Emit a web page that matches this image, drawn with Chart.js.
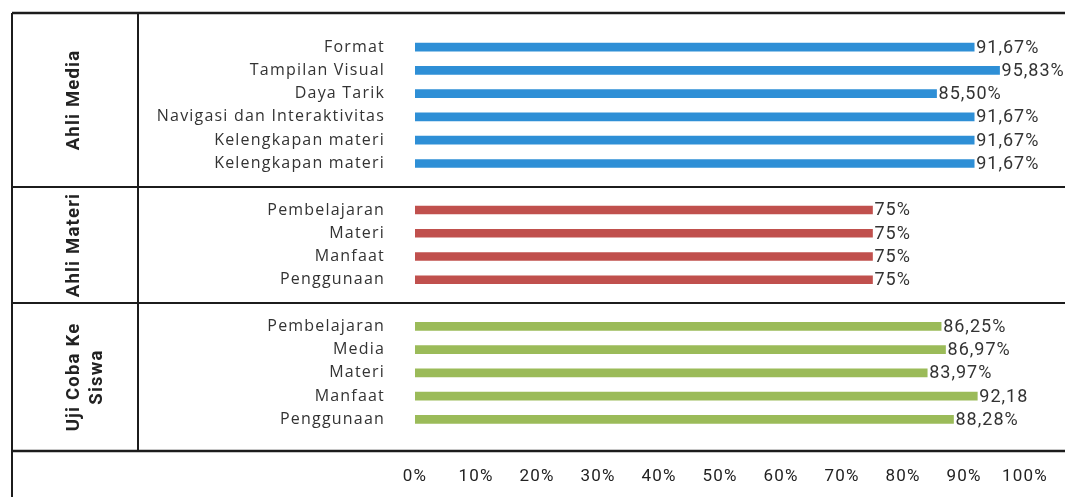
<!DOCTYPE html>
<html>
<head>
<meta charset="utf-8">
<script src="https://cdn.jsdelivr.net/npm/chart.js@4.4.1/dist/chart.umd.min.js"></script>
<style>
    html, body { margin: 0; padding: 0; background: #fff; }
    #wrap { width: 1065px; height: 497px; }
</style>
</head>
<body>
<div id="wrap"><canvas id="chart" width="1065" height="497"></canvas></div>
<script>
// groups (rotated labels in the left column)
const groupNames = [['Ahli Media'], ['Ahli Materi'], ['Uji Coba Ke', 'Siswa']];
const groupColors = ['#2e8fd6', '#c0504d', '#9bbb59'];

const mediaLabels = ['Format', 'Tampilan Visual', 'Daya Tarik', 'Navigasi dan Interaktivitas', 'Kelengkapan materi', 'Kelengkapan materi'];
const mediaValues = [91.67, 95.83, 85.50, 91.67, 91.67, 91.67];
const mediaText = ['91,67%', '95,83%', '85,50%', '91,67%', '91,67%', '91,67%'];

const materiLabels = ['Pembelajaran', 'Materi', 'Manfaat', 'Penggunaan'];
const materiValues = [75, 75, 75, 75];
const materiText = ['75%', '75%', '75%', '75%'];

const siswaLabels = ['Pembelajaran', 'Media', 'Materi', 'Manfaat', 'Penggunaan'];
const siswaValues = [86.25, 86.97, 83.97, 92.18, 88.28];
const siswaText = ['86,25%', '86,97%', '83,97%', '92,18', '88,28%'];

const xTicks = [0, 10, 20, 30, 40, 50, 60, 70, 80, 90, 100];

// one empty slot between groups
const groups = [
    { labels: mediaLabels, values: mediaValues, text: mediaText },
    { labels: materiLabels, values: materiValues, text: materiText },
    { labels: siswaLabels, values: siswaValues, text: siswaText }
];
const labels = [];
const values = [];
const colors = [];
const valueText = [];
const groupRows = [];
groups.forEach((g, gi) => {
    if (gi > 0) {
        labels.push('');
        values.push(null);
        colors.push('transparent');
        valueText.push('');
    }
    const first = labels.length;
    g.labels.forEach((l, i) => {
        labels.push(l);
        values.push(g.values[i]);
        colors.push(groupColors[gi]);
        valueText.push(g.text[i]);
    });
    groupRows.push([first, labels.length - 1]);
});

const FRAME_TOP = 13;
const FRAME_BOTTOM = 451;
const FRAME_LEFT = 12;
const COL_X = 138;

// wider letter spacing for the axis labels, as in the original
const spacingPlugin = {
    id: 'spacing',
    beforeDraw(chart) { chart.ctx.letterSpacing = '1.2px'; },
    beforeDatasetsDraw(chart) { chart.ctx.letterSpacing = '0px'; }
};

const framePlugin = {
    id: 'frame',
    afterDraw(chart) {
        const ctx = chart.ctx;
        const y = chart.scales.y;
        const w = chart.width;
        const dividers = [FRAME_TOP];
        for (let gi = 1; gi < groupRows.length; gi++) {
            dividers.push(Math.round(y.getPixelForValue(groupRows[gi][0] - 1)));
        }
        dividers.push(FRAME_BOTTOM);

        ctx.save();
        ctx.strokeStyle = '#1c1c1c';
        ctx.lineWidth = 2;
        dividers.forEach((d, i) => {
            ctx.lineWidth = (i === 0 || i === dividers.length - 1) ? 2.5 : 2;
            ctx.beginPath();
            ctx.moveTo(FRAME_LEFT, d);
            ctx.lineTo(w, d);
            ctx.stroke();
        });
        ctx.lineWidth = 2;
        ctx.beginPath();
        ctx.moveTo(FRAME_LEFT, FRAME_TOP);
        ctx.lineTo(FRAME_LEFT, chart.height);
        ctx.moveTo(COL_X, FRAME_TOP);
        ctx.lineTo(COL_X, FRAME_BOTTOM);
        ctx.stroke();

        // rotated group names
        ctx.fillStyle = '#222';
        ctx.font = 'bold 18.5px Roboto';
        ctx.letterSpacing = '1.2px';
        ctx.textAlign = 'center';
        ctx.textBaseline = 'middle';
        groupNames.forEach((lines, gi) => {
            const cy = (dividers[gi] + dividers[gi + 1]) / 2;
            ctx.save();
            ctx.translate(74, cy);
            ctx.rotate(-Math.PI / 2);
            lines.forEach((line, li) => {
                ctx.fillText(line, 0, li * 23);
            });
            ctx.restore();
        });
        ctx.restore();
    }
};

const valueLabelPlugin = {
    id: 'valueLabels',
    afterDatasetsDraw(chart) {
        const ctx = chart.ctx;
        const meta = chart.getDatasetMeta(0);
        ctx.save();
        ctx.fillStyle = '#333';
        ctx.font = '18px Roboto';
        ctx.letterSpacing = '1px';
        ctx.textAlign = 'left';
        ctx.textBaseline = 'middle';
        meta.data.forEach((bar, i) => {
            if (values[i] === null) return;
            ctx.fillText(valueText[i], bar.x + 2, bar.y + 1);
        });
        ctx.restore();
    }
};

const ctx = document.getElementById('chart').getContext('2d');
new Chart(ctx, {
    type: 'bar',
    data: {
        labels,
        datasets: [{
            data: values,
            backgroundColor: colors,
            barThickness: 8,
            borderWidth: 0
        }]
    },
    options: {
        indexAxis: 'y',
        responsive: false,
        animation: false,
        layout: {
            padding: { top: 35.5, right: 40, left: 0, bottom: 0 }
        },
        plugins: {
            legend: { display: false },
            tooltip: { enabled: false }
        },
        scales: {
            x: {
                min: 0,
                max: 100,
                afterBuildTicks: (scale) => {
                    scale.ticks = xTicks.map(v => ({ value: v }));
                },
                afterFit: (scale) => {
                    scale.height = 66;
                    scale.paddingLeft = 0;
                    scale.paddingRight = 0;
                },
                grid: { display: false, drawTicks: false },
                border: { display: false },
                ticks: {
                    padding: 36,
                    color: '#222',
                    font: { family: 'Roboto', size: 17 },
                    callback: (value) => `${value}%`
                }
            },
            y: {
                afterFit: (scale) => {
                    scale.width = 415;
                    scale.paddingTop = 0;
                    scale.paddingBottom = 0;
                },
                grid: { display: false, drawTicks: false },
                border: { display: false },
                ticks: {
                    autoSkip: false,
                    padding: 30,
                    color: '#333',
                    font: { family: 'Open Sans', size: 16 }
                }
            }
        }
    },
    plugins: [spacingPlugin, framePlugin, valueLabelPlugin]
});
</script>
</body>
</html>
